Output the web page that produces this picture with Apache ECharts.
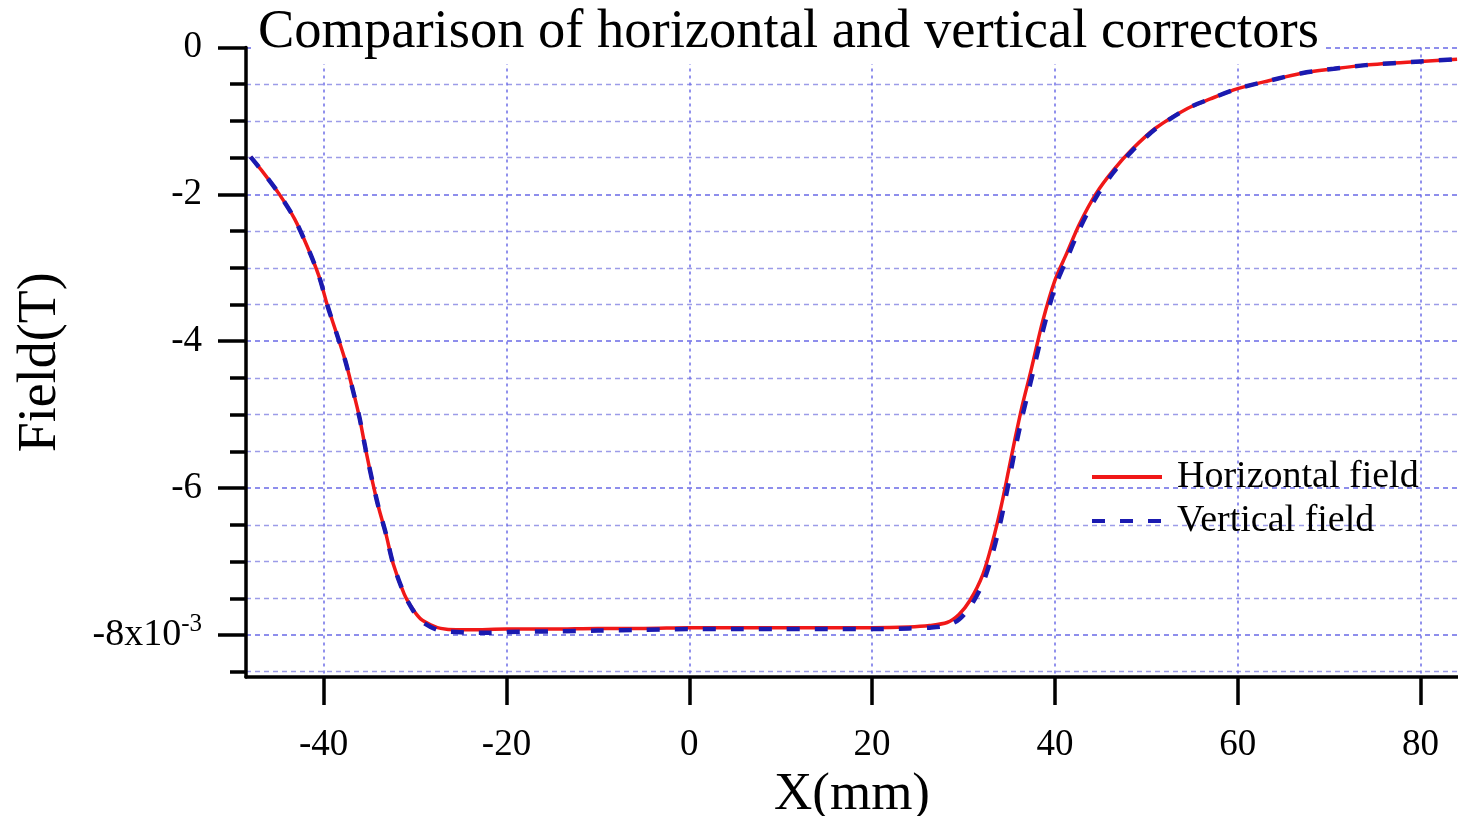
<!DOCTYPE html>
<html>
<head>
<meta charset="utf-8">
<script src="https://cdn.jsdelivr.net/npm/echarts@6/dist/echarts.min.js"></script>
<style>
html,body{margin:0;padding:0;background:#fff;}
#chart{width:1458px;height:816px;}
</style>
</head>
<body>
<div id="chart"></div>
<script>
// X positions (mm) and field values (x10^-3 T)
const hX = [-48, -46.5, -44.9, -43.2, -41.8, -40.5, -39.6, -38.6, -37.65, -36.9, -36.1, -35.4, -34.7, -34, -33.2, -32.4, -31.2, -30.3, -29.4, -28.3, -27.2, -25.5, -24, -20, -15, -10, -5, 0, 5, 10, 15, 20, 24, 26.3, 28.2, 29.5, 30.7, 32.1, 33.2, 34.1, 34.9, 35.6, 36.4, 37.3, 38.7, 40, 41.3, 42.7, 44.5, 46.4, 48.5, 51, 54.5, 57, 60, 63.5, 67, 70.5, 74, 80, 84];
const hY = [-1.49, -1.72, -1.99, -2.33, -2.71, -3.12, -3.51, -3.89, -4.26, -4.62, -5.03, -5.48, -5.89, -6.26, -6.62, -7.03, -7.44, -7.64, -7.78, -7.86, -7.91, -7.93, -7.93, -7.92, -7.92, -7.91, -7.91, -7.9, -7.9, -7.9, -7.9, -7.9, -7.89, -7.87, -7.83, -7.72, -7.53, -7.18, -6.72, -6.26, -5.78, -5.35, -4.89, -4.44, -3.71, -3.17, -2.80, -2.40, -1.99, -1.67, -1.38, -1.10, -0.83, -0.70, -0.56, -0.45, -0.35, -0.29, -0.24, -0.19, -0.16];

const vX = [-48, -46.5, -44.9, -43.2, -41.8, -40.5, -39.6, -38.6, -37.65, -36.9, -36.1, -35.4, -34.7, -34, -33.2, -32.4, -31.2, -30.3, -29.4, -28.3, -27.2, -25.5, -24, -22, -20, -15, -10, -5, 0, 5, 10, 15, 20, 24, 26.3, 28.2, 29.5, 30.7, 32.1, 33.2, 34.1, 34.9, 35.6, 36.4, 37.3, 38.7, 40, 41.3, 42.7, 44.5, 46.4, 48.5, 51, 54.5, 57, 60, 63.5, 67, 70.5, 74, 80, 84];
const vY = [-1.49, -1.72, -1.99, -2.33, -2.71, -3.12, -3.51, -3.89, -4.26, -4.62, -5.03, -5.48, -5.89, -6.26, -6.62, -7.03, -7.44, -7.65, -7.80, -7.89, -7.94, -7.96, -7.97, -7.97, -7.96, -7.95, -7.94, -7.93, -7.92, -7.92, -7.92, -7.92, -7.92, -7.91, -7.90, -7.87, -7.79, -7.62, -7.30, -6.88, -6.43, -5.95, -5.50, -5.04, -4.58, -3.85, -3.27, -2.88, -2.47, -2.04, -1.70, -1.40, -1.11, -0.83, -0.70, -0.56, -0.45, -0.35, -0.29, -0.24, -0.19, -0.16];

const xTicks = [-40, -20, 0, 20, 40, 60, 80];
const yMajor = [0, -2, -4, -6, -8];
const yMinor = [-0.5, -1, -1.5, -2.5, -3, -3.5, -4.5, -5, -5.5, -6.5, -7, -7.5, -8.5];

const FONT = '"Liberation Serif", "DejaVu Serif", serif';

const chart = echarts.init(document.getElementById('chart'));
const pair = (xs, ys) => xs.map((x, i) => [x, ys[i]]);

chart.setOption({
  backgroundColor: '#fff',
  animation: false,
  title: {
    text: 'Comparison of horizontal and vertical correctors',
    left: 252, top: 3,
    padding: [2, 6, 4, 6],
    backgroundColor: '#fff',
    textStyle: {fontFamily: FONT, fontSize: 54.5, fontWeight: 'normal', color: '#000'}
  },
  legend: {
    show: true,
    orient: 'vertical',
    left: 1085, top: 453,
    itemWidth: 70, itemHeight: 14, itemGap: 6,
    itemStyle: {opacity: 0},
    lineStyle: {width: 4},
    textStyle: {fontFamily: FONT, fontSize: 38, color: '#000', padding: [0, 0, 0, 10]},
    data: ['Horizontal field', 'Vertical field']
  },
  grid: {left: 246, right: 0, top: 47.5, bottom: 139, containLabel: false, outerBoundsMode: 'none'},
  xAxis: {
    type: 'value', min: -48.5, max: 84.1,
    name: 'X(mm)', nameLocation: 'middle', nameGap: 90,
    nameTextStyle: {fontFamily: FONT, fontSize: 53, color: '#000'},
    axisLine: {show: true, onZero: false, lineStyle: {color: '#000', width: 3.5}},
    axisTick: {show: true, customValues: xTicks, length: 28, lineStyle: {color: '#000', width: 3.5}},
    axisLabel: {customValues: xTicks, margin: 50, fontFamily: FONT, fontSize: 37, color: '#000'},
    splitLine: {show: true, lineStyle: {color: '#6e6ee6', width: 1.5, type: [3, 4]}}
  },
  yAxis: [{
    type: 'value', min: -8.572, max: 0, position: 'left',
    name: 'Field(T)', nameLocation: 'middle', nameGap: 178, nameRotate: 90,
    nameTextStyle: {fontFamily: FONT, fontSize: 54, color: '#000'},
    axisLine: {show: true, onZero: false, lineStyle: {color: '#000', width: 3.5}},
    axisTick: {show: true, customValues: yMajor, length: 28, lineStyle: {color: '#000', width: 3.5}},
    axisLabel: {
      customValues: yMajor, margin: 44, fontFamily: FONT, fontSize: 37, color: '#000',
      formatter: v => v === -8 ? '{m|-8x10}{s|-3}' : String(v),
      rich: {
        m: {fontFamily: FONT, fontSize: 38, color: '#000'},
        s: {fontFamily: FONT, fontSize: 25, color: '#000', padding: [0, 0, 22, 0]}
      }
    },
    splitLine: {show: true, lineStyle: {color: '#6a6ae6', width: 1.5, type: [5, 4]}}
  }, {
    type: 'value', min: -8.572, max: 0, position: 'left',
    axisLine: {show: false, onZero: false},
    axisTick: {show: true, customValues: yMinor, length: 16, lineStyle: {color: '#000', width: 3.5}},
    axisLabel: {show: false, customValues: yMinor},
    splitLine: {show: true, lineStyle: {color: '#9c9ce8', width: 1.4, type: [5, 4]}}
  }],
  series: [{
    name: 'Horizontal field', type: 'line', data: pair(hX, hY),
    smooth: 0.3, showSymbol: false, symbol: 'none', clip: true,
    lineStyle: {color: '#f01818', width: 3.5},
    itemStyle: {color: '#f01818'}
  }, {
    name: 'Vertical field', type: 'line', data: pair(vX, vY),
    smooth: 0.3, showSymbol: false, symbol: 'none', clip: true,
    lineStyle: {color: '#1a1ab0', width: 4.5, type: [13, 15]},
    itemStyle: {color: '#1a1ab0'}
  }]
});
</script>
</body>
</html>
